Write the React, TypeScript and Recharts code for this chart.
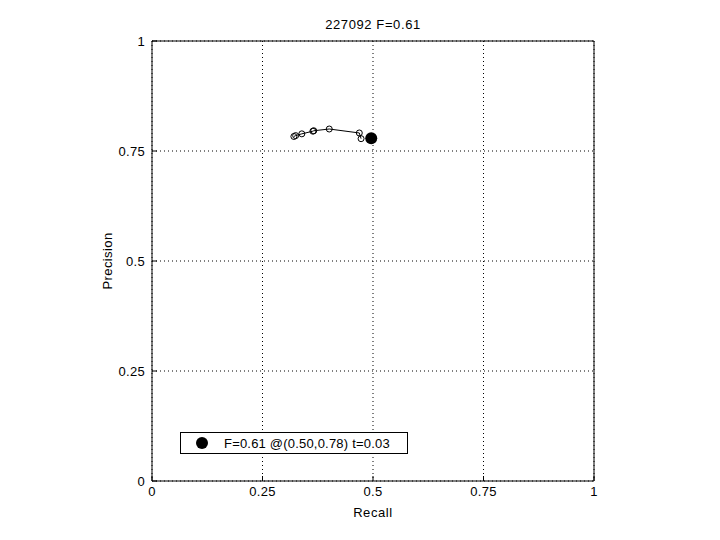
import {
  ScatterChart,
  Scatter,
  XAxis,
  YAxis,
  CartesianGrid,
} from 'recharts'

// PR curve points, ordered by threshold
const recall = [0.321, 0.325, 0.339, 0.364, 0.366, 0.401, 0.469, 0.473]
const precision = [0.783, 0.785, 0.789, 0.795, 0.796, 0.8, 0.791, 0.778]

// best F operating point
const bestRecall = [0.496]
const bestPrecision = [0.779]

const ticks = [0, 0.25, 0.5, 0.75, 1]
const title = '227092 F=0.61'
const legendText = 'F=0.61 @(0.50,0.78) t=0.03'

const curve = recall.map((r, i) => ({ r, p: precision[i] }))
const best = bestRecall.map((r, i) => ({ r, p: bestPrecision[i] }))

const font = '"Liberation Sans", Arial, sans-serif'
const axisStyle = { fontSize: 13, fill: '#000', letterSpacing: 0.3 }

const OpenDot = (props: any) => (
  <circle cx={props.cx} cy={props.cy} r={3} fill="none" stroke="#000" strokeWidth={1} />
)
const BigDot = (props: any) => <circle cx={props.cx} cy={props.cy} r={6} fill="#000" />

export default function App() {
  return (
    <div style={{ position: 'absolute', left: 0, top: 0, width: 720, height: 540, background: '#fff' }}>
      <ScatterChart
        width={720}
        height={540}
        margin={{ top: 31, right: 116, bottom: 19, left: 102 }}
        style={{ fontFamily: font }}
      >
        <CartesianGrid
          xAxisId="b"
          yAxisId="l"
          stroke="#000"
          strokeDasharray="1 3"
        />
        <XAxis
          xAxisId="b"
          type="number"
          dataKey="r"
          domain={[0, 1]}
          ticks={ticks}
          height={40}
          tickSize={-5}
          tickMargin={11}
          stroke="#000"
          tick={axisStyle}
          label={{ value: 'Recall', position: 'insideBottom', offset: 4, fontSize: 13, fill: '#000', style: { letterSpacing: 0.6 } }}
        />
        <XAxis
          xAxisId="t"
          orientation="top"
          type="number"
          dataKey="r"
          domain={[0, 1]}
          ticks={ticks}
          height={10}
          tickSize={-5}
          tickFormatter={() => ''}
          stroke="#000"
          label={{ value: title, position: 'top', offset: 2, fontSize: 13, fill: '#000', style: { letterSpacing: 0.6 } }}
        />
        <YAxis
          yAxisId="l"
          type="number"
          dataKey="p"
          domain={[0, 1]}
          ticks={ticks}
          width={50}
          tickSize={-5}
          tickMargin={12}
          stroke="#000"
          tick={axisStyle}
          label={{ value: 'Precision', angle: -90, position: 'insideLeft', offset: 5, fontSize: 13, fill: '#000', style: { textAnchor: 'middle', letterSpacing: 0.4 } }}
        />
        <YAxis
          yAxisId="r"
          orientation="right"
          type="number"
          dataKey="p"
          domain={[0, 1]}
          ticks={ticks}
          width={10}
          tickSize={-5}
          tickFormatter={() => ''}
          stroke="#000"
        />
        <Scatter
          data={curve}
          xAxisId="b"
          yAxisId="l"
          shape={OpenDot}
          line={{ stroke: '#000', strokeWidth: 1 }}
          isAnimationActive={false}
        />
        <Scatter
          data={best}
          xAxisId="b"
          yAxisId="l"
          shape={BigDot}
          isAnimationActive={false}
        />
      </ScatterChart>
      <div
        style={{
          position: 'absolute',
          left: 180,
          top: 432,
          width: 226,
          height: 20,
          border: '1px solid #000',
          background: '#fff',
          display: 'flex',
          alignItems: 'center',
          fontFamily: font,
          fontSize: 13,
          letterSpacing: 0.2,
          color: '#000',
          whiteSpace: 'nowrap',
        }}
      >
        <svg width={40} height={20} style={{ flexShrink: 0 }}>
          <circle cx={21} cy={10} r={6} fill="#000" />
        </svg>
        <span style={{ marginLeft: 3 }}>{legendText}</span>
      </div>
    </div>
  )
}
